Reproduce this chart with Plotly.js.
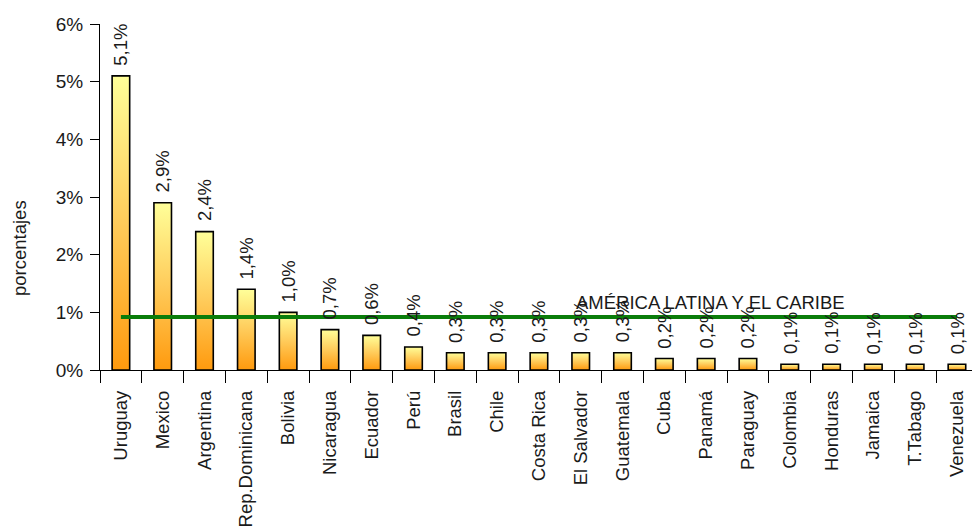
<!DOCTYPE html>
<html><head><meta charset="utf-8">
<script src="https://cdn.plot.ly/plotly-3.0.1.min.js"></script>
<style>html,body{margin:0;padding:0;background:#fff}#chart{width:972px;height:529px}</style>
</head><body><div id="chart"></div>
<script>
const countries = ['Uruguay','Mexico','Argentina','Rep.Dominicana','Bolivia','Nicaragua','Ecuador','Perú','Brasil','Chile','Costa Rica','El Salvador','Guatemala','Cuba','Panamá','Paraguay','Colombia','Honduras','Jamaica','T.Tabago','Venezuela'];
const values = [5.1,2.9,2.4,1.4,1.0,0.7,0.6,0.4,0.3,0.3,0.3,0.3,0.3,0.2,0.2,0.2,0.1,0.1,0.1,0.1,0.1];
const valueLabels = ['5,1%','2,9%','2,4%','1,4%','1,0%','0,7%','0,6%','0,4%','0,3%','0,3%','0,3%','0,3%','0,3%','0,2%','0,2%','0,2%','0,1%','0,1%','0,1%','0,1%','0,1%'];
const regionLabel = 'AMÉRICA LATINA Y EL CARIBE';
const regionValue = 0.92;
const yTickVals = [0,1,2,3,4,5,6];
const yTickText = ['0%','1%','2%','3%','4%','5%','6%'];
const yTitle = 'porcentajes';

const FONT = '"Liberation Sans", Arial, sans-serif';
const TXT = '#1a1a1a';
const half = 0.21;

const traces = [];
countries.forEach((c, i) => {
  const v = values[i];
  traces.push({
    type: 'scatter', mode: 'lines',
    x: [i - half, i - half, i + half, i + half, i - half],
    y: [0, v, v, 0, 0],
    fill: 'toself',
    fillgradient: {type: 'vertical', colorscale: [[0, '#FF9A0E'], [0.5, '#FFCB5A'], [1, '#FFFF99']]},
    line: {color: '#000', width: 1.6},
    hoverinfo: 'skip', showlegend: false
  });
});
traces.push({
  type: 'scatter', mode: 'lines',
  x: countries.map((c, i) => i),
  y: countries.map(() => regionValue),
  xaxis: 'x2',
  line: {color: '#0A7D0A', width: 4},
  hoverinfo: 'skip', showlegend: false
});

const boundaries = countries.map((c, i) => i - 0.5).concat([countries.length - 0.5]);

const annotations = values.map((v, i) => ({
  x: i, y: v, xref: 'x', yref: 'y',
  text: valueLabels[i], textangle: -90,
  xanchor: 'center', yanchor: 'bottom', yshift: 8,
  showarrow: false, font: {family: FONT, size: 18.5, color: TXT}
}));
annotations.push({
  x: 14.1, y: regionValue, xref: 'x', yref: 'y',
  text: regionLabel, xanchor: 'center', yanchor: 'bottom', yshift: 2,
  showarrow: false, font: {family: FONT, size: 18.5, color: TXT}
});
annotations.push({
  x: (19 - 100) / 872, y: (370 - 248) / 346, xref: 'paper', yref: 'paper',
  text: yTitle, textangle: -90, xanchor: 'center', yanchor: 'middle',
  showarrow: false, font: {family: FONT, size: 18.5, color: TXT}
});

const layout = {
  width: 972, height: 529,
  margin: {l: 100, r: 0, t: 24, b: 159, pad: 0},
  paper_bgcolor: '#fff', plot_bgcolor: '#fff',
  font: {family: FONT, size: 18, color: TXT},
  showlegend: false,
  xaxis: {
    type: 'linear', range: [-0.5, 20.36], fixedrange: true,
    tickmode: 'array', tickvals: boundaries, showticklabels: false,
    ticks: 'outside', ticklen: 12, tickcolor: '#000', tickwidth: 1,
    showline: true, linecolor: '#000', linewidth: 1,
    showgrid: false, zeroline: false
  },
  xaxis2: {
    type: 'linear', overlaying: 'x', matches: 'x', anchor: 'y', side: 'bottom',
    tickmode: 'array', tickvals: countries.map((c, i) => i), ticktext: countries,
    tickangle: -90, ticks: '', showline: false, showgrid: false, zeroline: false,
    ticklabelstandoff: 16,
    tickfont: {family: FONT, size: 18.5, color: TXT}
  },
  yaxis: {
    range: [0, 6], fixedrange: true,
    tickmode: 'array', tickvals: yTickVals, ticktext: yTickText,
    ticks: 'outside', ticklen: 9, tickcolor: '#000', tickwidth: 1,
    showline: true, linecolor: '#000', linewidth: 1,
    showgrid: false, zeroline: false,
    ticklabelstandoff: 3,
    tickfont: {family: FONT, size: 19, color: TXT}
  },
  annotations: annotations
};

Plotly.newPlot('chart', traces, layout, {staticPlot: true, displayModeBar: false});
</script>
</body></html>
